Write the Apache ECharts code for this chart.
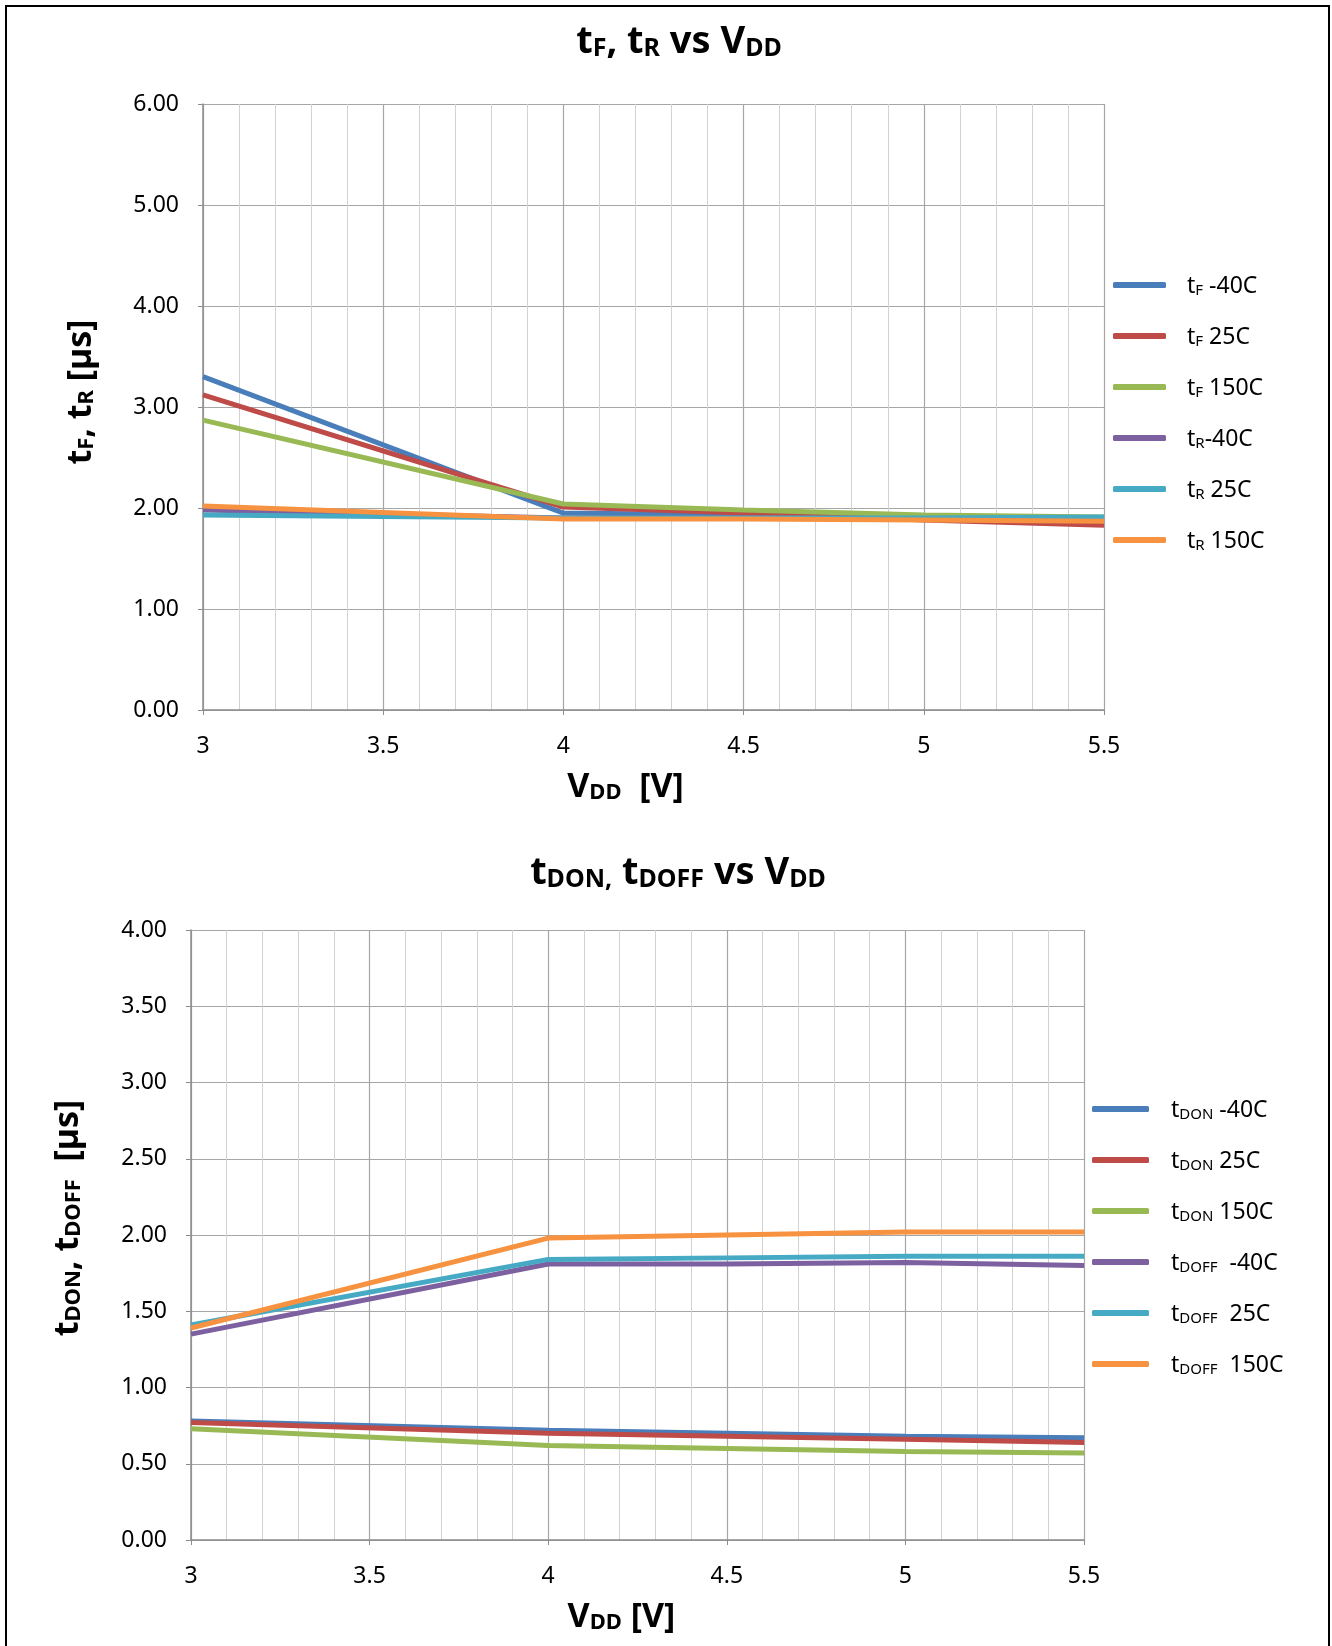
<!DOCTYPE html>
<html>
<head>
<meta charset="utf-8">
<title>tF, tR / tDON, tDOFF vs VDD</title>
<script src="https://cdn.jsdelivr.net/npm/echarts@6/dist/echarts.min.js"></script>
<style>
html, body { margin: 0; padding: 0; background: #fff; }
#main { width: 1332px; height: 1646px; }
</style>
</head>
<body>
<div id="main"></div>
<script>
// supply voltage points [V]
var vdd = [3, 4, 4.5, 5, 5.5];

// fall / rise time [us]
var tF_m40 = [3.30, 1.95, 1.93, 1.89, 1.85];
var tF_25 = [3.12, 2.01, 1.95, 1.88, 1.83];
var tF_150 = [2.87, 2.04, 1.98, 1.93, 1.91];
var tR_m40 = [1.98, 1.90, 1.90, 1.89, 1.89];
var tR_25 = [1.93, 1.90, 1.90, 1.90, 1.91];
var tR_150 = [2.02, 1.89, 1.89, 1.88, 1.87];

// turn-on / turn-off delay [us]
var tDON_m40 = [0.78, 0.72, 0.70, 0.68, 0.67];
var tDON_25 = [0.77, 0.70, 0.68, 0.66, 0.64];
var tDON_150 = [0.73, 0.62, 0.60, 0.58, 0.57];
var tDOFF_m40 = [1.35, 1.81, 1.81, 1.82, 1.80];
var tDOFF_25 = [1.41, 1.84, 1.85, 1.86, 1.86];
var tDOFF_150 = [1.39, 1.98, 2.00, 2.02, 2.02];

var yTicksTop = [0, 6, 1];
var yTicksBottom = [0, 4, 0.5];

var colors = ["#4A7EBB", "#BE4B48", "#98B954", "#7D60A0", "#46AAC5", "#F69240"];
var FONT = "Noto Sans";

function pts(ys) {
  return vdd.map(function (x, i) { return [x, ys[i]]; });
}

// legend labels with subscripts
var legendText = {
  "tF -40C": "{t|t}{s|F}{t| -40C}",
  "tF 25C": "{t|t}{s|F}{t| 25C}",
  "tF 150C": "{t|t}{s|F}{t| 150C}",
  "tR -40C": "{t|t}{s|R}{t|-40C}",
  "tR 25C": "{t|t}{s|R}{t| 25C}",
  "tR 150C": "{t|t}{s|R}{t| 150C}",
  "tDON -40C": "{t|t}{s|DON}{t| -40C}",
  "tDON 25C": "{t|t}{s|DON}{t| 25C}",
  "tDON 150C": "{t|t}{s|DON}{t| 150C}",
  "tDOFF -40C": "{t|t}{s|DOFF}{t|  -40C}",
  "tDOFF 25C": "{t|t}{s|DOFF}{t|  25C}",
  "tDOFF 150C": "{t|t}{s|DOFF}{t|  150C}"
};

var legendRich = {
  t: { fontSize: 23, lineHeight: 26, verticalAlign: "bottom", color: "#000", fontFamily: FONT },
  s: { fontSize: 15, lineHeight: 17, verticalAlign: "bottom", color: "#000", fontFamily: FONT }
};

var bigRich = {
  t: { fontSize: 38, fontWeight: "bold", lineHeight: 46, verticalAlign: "bottom", color: "#000", fontFamily: FONT },
  s: { fontSize: 25, fontWeight: "bold", lineHeight: 22, verticalAlign: "bottom", color: "#000", fontFamily: FONT }
};

var nameRich = {
  t: { fontSize: 34, fontWeight: "bold", lineHeight: 42, verticalAlign: "bottom", color: "#000", fontFamily: FONT },
  s: { fontSize: 22, fontWeight: "bold", lineHeight: 21, verticalAlign: "bottom", color: "#000", fontFamily: FONT }
};

function xAxisOpt(gridIndex, name, padRight) {
  return {
    type: "value",
    gridIndex: gridIndex,
    min: 3,
    max: 5.5,
    interval: 0.5,
    name: name,
    nameLocation: "middle",
    nameGap: 52,
    nameTextStyle: { rich: nameRich, padding: [0, padRight, 0, 0] },
    axisLine: { show: true, lineStyle: { color: "#8c8c8c", width: 1.5 } },
    axisTick: { show: true, length: 5, lineStyle: { color: "#8c8c8c" } },
    axisLabel: { color: "#000", fontSize: 23, fontFamily: FONT, margin: 25 },
    splitLine: { show: true, lineStyle: { color: "#a6a6a6", width: 1.2 } },
    minorTick: { show: false, splitNumber: 5 },
    minorSplitLine: { show: true, lineStyle: { color: "#d2d2d2", width: 1 } }
  };
}

function yAxisOpt(gridIndex, ticks, name, gap, padLeft) {
  return {
    type: "value",
    gridIndex: gridIndex,
    min: ticks[0],
    max: ticks[1],
    interval: ticks[2],
    name: name,
    nameLocation: "middle",
    nameRotate: 90,
    nameGap: gap,
    nameTextStyle: { rich: nameRich, padding: [0, 0, 0, padLeft] },
    axisLine: { show: true, lineStyle: { color: "#8c8c8c", width: 1.5 } },
    axisTick: { show: true, length: 5, lineStyle: { color: "#8c8c8c" } },
    axisLabel: {
      color: "#000", fontSize: 23, fontFamily: FONT, margin: 24,
      formatter: function (v) { return v.toFixed(2); }
    },
    splitLine: { show: true, lineStyle: { color: "#a6a6a6", width: 1.2 } }
  };
}

function line(name, ys, idx, axis) {
  return {
    name: name,
    type: "line",
    xAxisIndex: axis,
    yAxisIndex: axis,
    data: pts(ys),
    symbol: "none",
    smooth: false,
    lineStyle: { width: 5, color: colors[idx] },
    itemStyle: { color: colors[idx] }
  };
}

var topNames = ["tF -40C", "tF 25C", "tF 150C", "tR -40C", "tR 25C", "tR 150C"];
var botNames = ["tDON -40C", "tDON 25C", "tDON 150C", "tDOFF -40C", "tDOFF 25C", "tDOFF 150C"];

var chart = echarts.init(document.getElementById("main"));

var option = {
  backgroundColor: "#fff",
  animation: false,
  title: [
    {
      text: "{t|t}{s|F}{t|, t}{s|R}{t| vs V}{s|DD}",
      left: 674, top: 10, textAlign: "center",
      textStyle: { rich: bigRich }
    },
    {
      text: "{t|t}{s|DON,}{t| t}{s|DOFF}{t| vs V}{s|DD}",
      left: 673, top: 841, textAlign: "center",
      textStyle: { rich: bigRich }
    }
  ],
  legend: [
    {
      data: topNames,
      orient: "vertical",
      left: 1108, top: 270,
      icon: "roundRect",
      itemWidth: 53, itemHeight: 6, itemGap: 28,
      formatter: function (n) { return legendText[n]; },
      textStyle: { rich: legendRich, padding: [0, 0, 0, 16] }
    },
    {
      data: botNames,
      orient: "vertical",
      left: 1087, top: 1094,
      icon: "roundRect",
      itemWidth: 57, itemHeight: 6, itemGap: 28,
      formatter: function (n) { return legendText[n]; },
      textStyle: { rich: legendRich, padding: [0, 0, 0, 17] }
    }
  ],
  grid: [
    { left: 203, right: 228, top: 104, bottom: 936 },
    { left: 191, right: 248, top: 930, bottom: 106 }
  ],
  xAxis: [
    xAxisOpt(0, "{t|V}{s|DD}{t|  [V]}", 56),
    xAxisOpt(1, "{t|V}{s|DD}{t| [V]}", 32)
  ],
  yAxis: [
    yAxisOpt(0, yTicksTop, "{t|t}{s|F}{t|, t}{s|R}{t| [µs]}", 105, 30),
    yAxisOpt(1, yTicksBottom, "{t|t}{s|DON}{t|, t}{s|DOFF}{t|  [µs]}", 106, 34)
  ],
  series: [
    line(topNames[0], tF_m40, 0, 0),
    line(topNames[1], tF_25, 1, 0),
    line(topNames[2], tF_150, 2, 0),
    line(topNames[3], tR_m40, 3, 0),
    line(topNames[4], tR_25, 4, 0),
    line(topNames[5], tR_150, 5, 0),
    line(botNames[0], tDON_m40, 0, 1),
    line(botNames[1], tDON_25, 1, 1),
    line(botNames[2], tDON_150, 2, 1),
    line(botNames[3], tDOFF_m40, 3, 1),
    line(botNames[4], tDOFF_25, 4, 1),
    line(botNames[5], tDOFF_150, 5, 1)
  ],
  graphic: [
    {
      type: "rect",
      silent: true,
      shape: { x: 6, y: 6, width: 1323, height: 1700 },
      style: { fill: "none", stroke: "#000", lineWidth: 2 }
    }
  ]
};

chart.setOption(option);
window.addEventListener("resize", function () {
  chart.resize();
});
</script>
</body>
</html>
